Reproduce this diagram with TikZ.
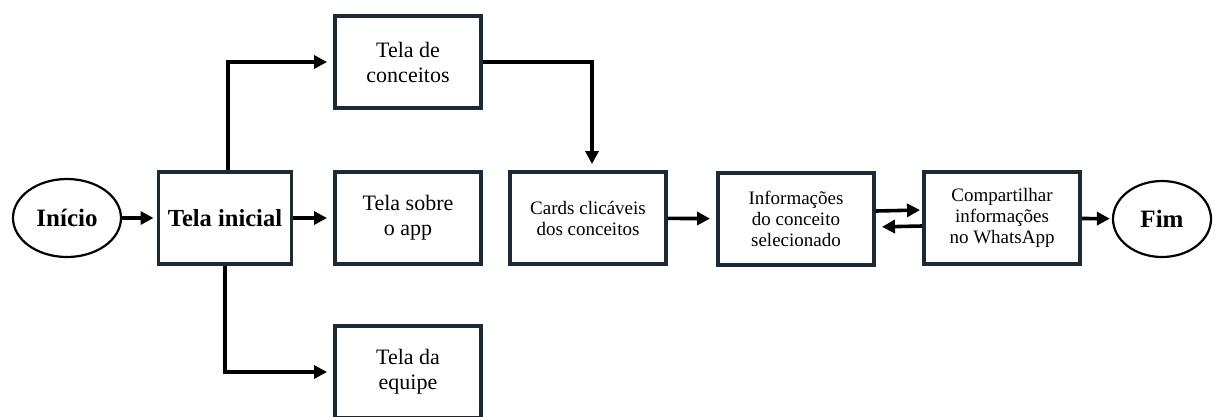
\documentclass[tikz,border=0pt]{standalone}
\usepackage{fontspec}
\setmainfont{Liberation Serif}
\usetikzlibrary{arrows.meta,shapes.geometric}
\definecolor{boxline}{HTML}{1B2A35}

\begin{document}
\begin{tikzpicture}[x=1pt, y=-1pt,
    tela/.style={draw=boxline, line width=3.9pt, minimum width=146pt, minimum height=92pt,
        align=center, inner sep=2pt, font=\fontsize{22}{25}\selectfont},
    passo/.style={tela, minimum width=156pt, font=\fontsize{19}{21}\selectfont},
    ponta/.style={draw, ellipse, line width=2.2pt, font=\bfseries\fontsize{25}{28}\selectfont},
    seta/.style={line width=3.6pt, -{Triangle[length=13pt,width=13pt]}, shorten >=6pt}
]
                \useasboundingbox (0,0) rectangle (1215,416);

                \node[ponta, minimum width=108pt, minimum height=78pt] (inicio) at (67, 218) {Início};
                \node[tela, minimum width=133pt, font=\bfseries\fontsize{24.5}{28}\selectfont]
                    (telaini) at (225, 218) {Tela inicial};
                \node[tela] (conceitos) at (408, 62) {Tela de\\conceitos};
                \node[tela] (sobre) at (408, 218) {Tela sobre\\o app};
                \node[tela] (equipe) at (408, 372) {Tela da\\equipe};
                \node[passo] (cards) at (588, 218) {Cards clicáveis\\dos conceitos};
                \node[passo] (info) at (796, 219) {Informações\\do conceito\\selecionado};
                \node[passo] (compart) at (1002, 218) {Compartilhar\\informações\\no WhatsApp};
                \node[ponta, minimum width=98pt, minimum height=76pt] (fim) at (1162, 219) {Fim};

                \begin{scope}[seta]
                    \draw[shorten >=3pt] (inicio) -- (telaini);
                    \draw ([xshift=3pt]telaini.north) |- (conceitos.west);
                    \draw (telaini) -- (sobre);
                    \draw (telaini.south) |- (equipe.west);
                    \draw (conceitos.east) -| ([xshift=4pt]cards.north);
                    \draw (cards) -- (info);
                    \draw[shorten >=2pt] ([yshift=8pt]info.east) -- ([yshift=8pt]compart.west);
                    \draw ([yshift=-8pt]compart.west) -- ([yshift=-8pt]info.east);
                    \draw[shorten >=2pt] (compart) -- (fim);
                \end{scope}
            \end{tikzpicture}
\end{document}
